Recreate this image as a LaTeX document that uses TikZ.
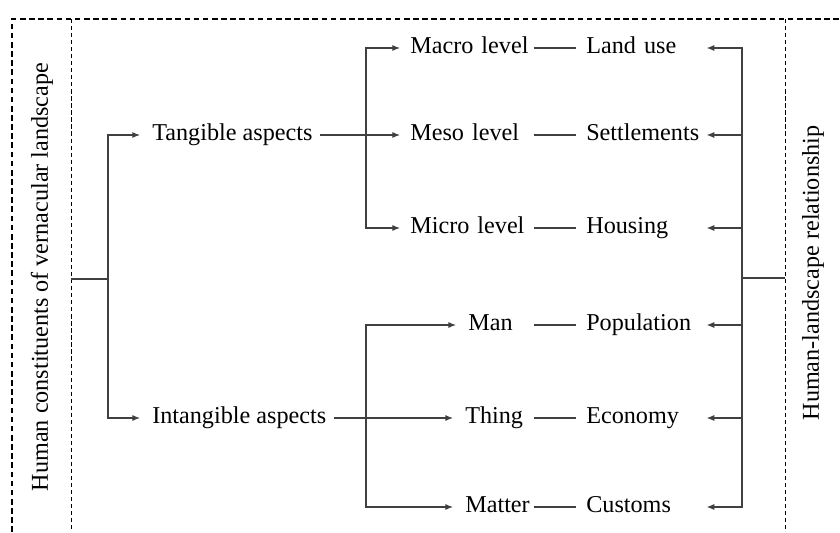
\documentclass[tikz,border=0pt]{standalone}
\usepackage{fontspec}
\setmainfont{Liberation Serif}
\usetikzlibrary{arrows.meta}
\definecolor{link-gray}{HTML}{404040}

\begin{document}
\begin{tikzpicture}[x=0.025cm, y=-0.025cm,
    every node/.style={font=\fontsize{17.2}{20}\selectfont},
    item/.style={inner xsep=0pt, inner ysep=1pt, anchor=west, align=left,
                 text height=12pt, text depth=3.5pt},
    link/.style={link-gray, line width=0.85pt},
    arr/.style={link, -{Latex[length=5.5pt,width=4.4pt]}},
    outer/.style={dash pattern=on 4pt off 2.5pt, line width=0.8pt},
    inner/.style={dash pattern=on 3pt off 2pt, line width=0.7pt}]
  \useasboundingbox (0,0) rectangle (840,532);

  % dashed frame
  \draw[outer] (12,532) -- (12,19) -- (840,19);
  \draw[inner] (71,19) -- (71,532);
  \draw[inner] (785,19) -- (785,532);

  \node[rotate=90] (lefttitle) at (42,277) {Human constituents of vernacular landscape};
  \node[rotate=90] (righttitle) at (813,273) {Human-landscape relationship};

  % aspects
  \node[item] (tang) at (152,135) {Tangible aspects};
  \node[item] (intang) at (152,418) {Intangible aspects};

  % levels
  \node[item, text width=3.075cm] (macro) at (410,48) {Macro level};
  \node[item, text width=3.075cm] (meso) at (410,135) {Meso level};
  \node[item, text width=3.075cm] (micro) at (410,228) {Micro level};
  \node[item, text width=1.625cm] (man) at (468,325) {Man};
  \node[item, text width=1.7cm] (thing) at (465,418) {Thing};
  \node[item, text width=1.7cm] (matter) at (465,507) {Matter};

  % outcomes
  \node[item, text width=3cm] (land) at (586,48) {Land use};
  \node[item, text width=3cm] (settle) at (586,135) {Settlements};
  \node[item, text width=3cm] (housing) at (586,228) {Housing};
  \node[item, text width=3cm] (popul) at (586,325) {Population};
  \node[item, text width=3cm] (econ) at (586,418) {Economy};
  \node[item, text width=3cm] (custom) at (586,507) {Customs};

  % left tree
  \coordinate (lroot) at (71,279);
  \coordinate (lbus) at (108,279);
  \draw[link] (lroot) -- (lbus);
  \draw[arr, shorten >=0.3cm] (lbus) |- (tang.west);
  \draw[arr, shorten >=0.3cm] (lbus) |- (intang.west);

  \coordinate (ubus) at (366,135);
  \coordinate (dbus) at (366,418);
  \draw[arr, shorten <=0.18cm, shorten >=0.25cm] (tang.east) -- (meso.west);
  \draw[arr, shorten >=0.25cm] (ubus) |- (macro.west);
  \draw[arr, shorten >=0.25cm] (ubus) |- (micro.west);
  \draw[arr, shorten <=0.18cm, shorten >=0.3cm] (intang.east) -- (thing.west);
  \draw[arr, shorten >=0.3cm] (dbus) |- (man.west);
  \draw[arr, shorten >=0.3cm] (dbus) |- (matter.west);

  \foreach \a/\b in {macro/land, meso/settle, micro/housing, man/popul, thing/econ, matter/custom}
    \draw[link, shorten >=0.25cm] (\a.east) -- (\b.west);

  % right tree
  \coordinate (rroot) at (785,278);
  \coordinate (rbus) at (742,278);
  \draw[link] (rroot) -- (rbus);
  \foreach \n in {land, settle, housing, popul, econ, custom}
    \draw[arr] (rbus) |- (\n.east);
\end{tikzpicture}
\end{document}
